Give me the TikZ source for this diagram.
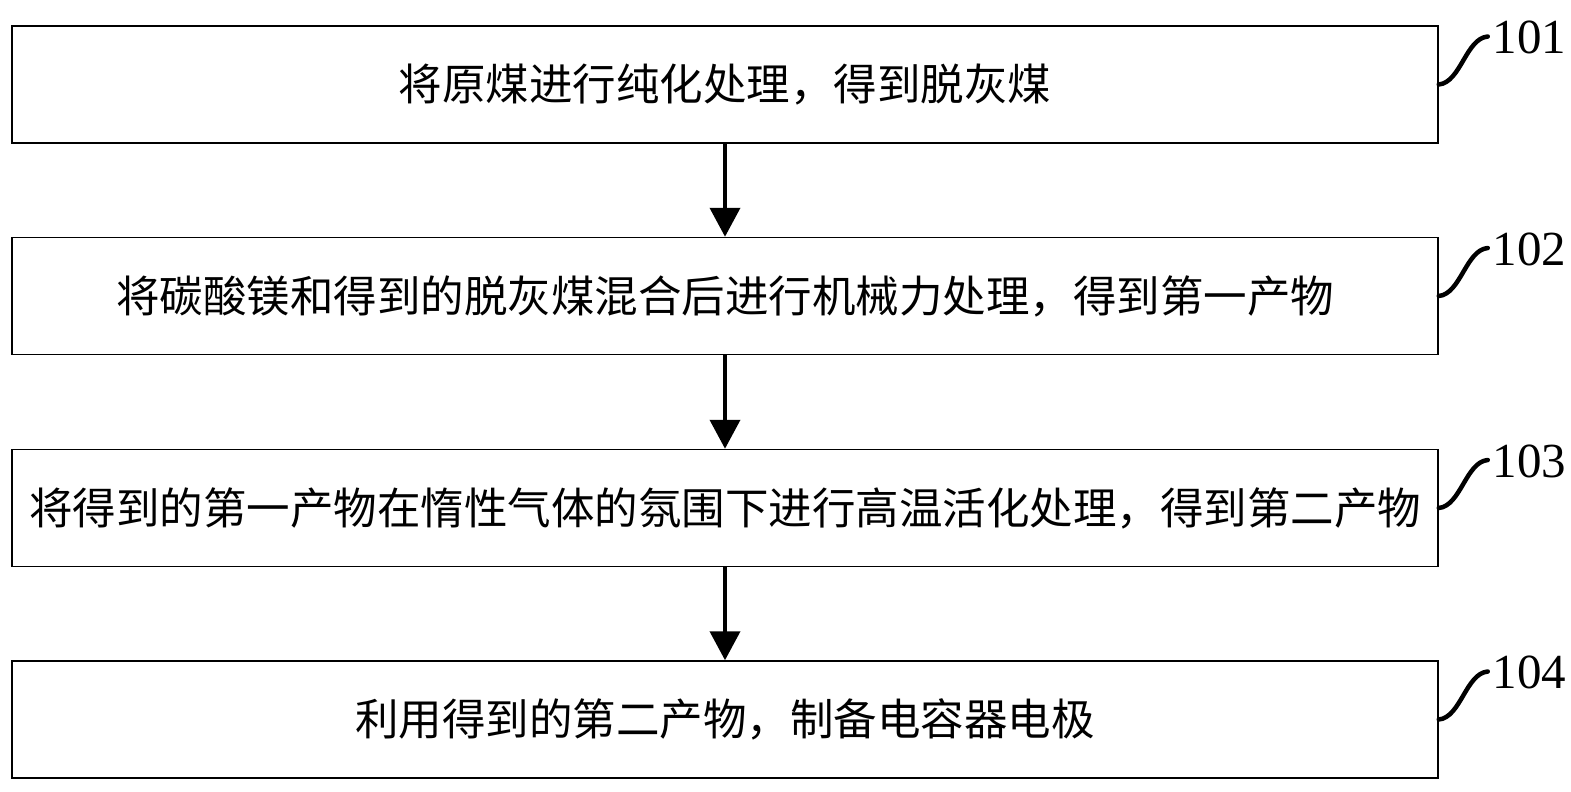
\documentclass[tikz,border=0pt]{standalone}
\usepackage{fontspec}
\setmainfont{Liberation Serif}
\newfontfamily\cjk{Noto Sans CJK SC}
\usetikzlibrary{arrows.meta}
\begin{document}
\begin{tikzpicture}[x=1pt,y=-1pt,
  stepbox/.style={draw=black,line width=1.5pt,minimum width=1426pt,minimum height=117pt,inner sep=0pt,font=\cjk\fontsize{43.5}{43.5}\selectfont},
  flow/.style={line width=4pt,-{Triangle[width=30pt,length=29pt]}},
  lead/.style={line width=4.5pt,line cap=round},
  num/.style={anchor=west,inner sep=0pt,font=\fontsize{49}{49}\selectfont}]
\useasboundingbox (0,0) rectangle (1571,792);
\node[stepbox] (b1) at (725,84.5) {将原煤进行纯化处理，得到脱灰煤};
\node[stepbox] (b2) at (725,296) {将碳酸镁和得到的脱灰煤混合后进行机械力处理，得到第一产物};
\node[stepbox] (b3) at (725,508) {将得到的第一产物在惰性气体的氛围下进行高温活化处理，得到第二产物};
\node[stepbox] (b4) at (725,719.5) {利用得到的第二产物，制备电容器电极};
\draw[flow] (b1.south) -- (b2.north);
\draw[flow] (b2.south) -- (b3.north);
\draw[flow] (b3.south) -- (b4.north);
\foreach \b/\n in {b1/101,b2/102,b3/103,b4/104}{
  \coordinate (e\b) at ([shift={(49,-48)}]\b.east);
  \draw[lead] (\b.east) .. controls ([shift={(22,-2)}]\b.east) and ([shift={(-22,2)}]e\b) .. (e\b);
  \node[num] (l\b) at ([shift={(5,1)}]e\b) {\n};
}
\end{tikzpicture}
\end{document}
